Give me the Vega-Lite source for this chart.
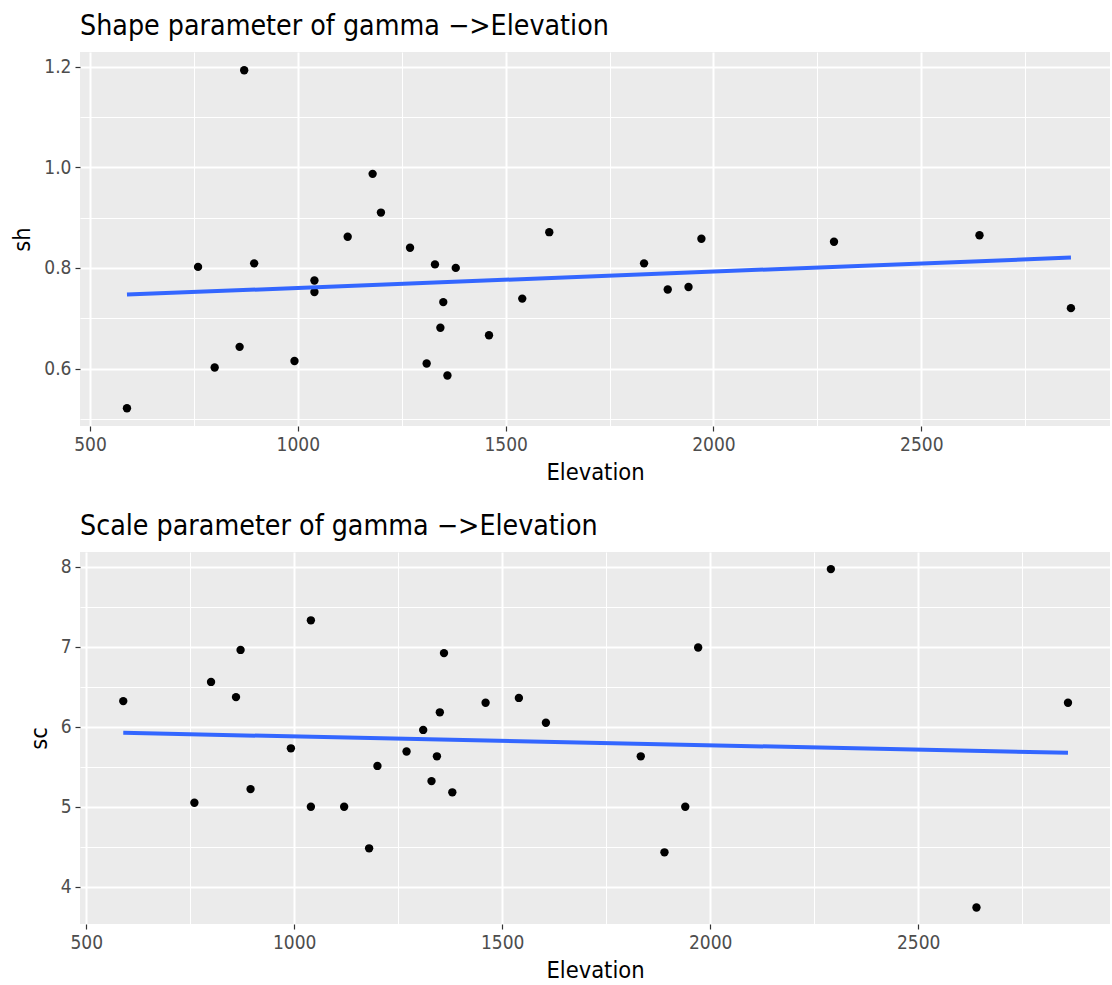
{
  "$schema": "https://vega.github.io/schema/vega-lite/v6.json",
  "padding": {"left": 10, "top": 11, "right": 0, "bottom": 0},
  "background": "white",
  "config": {
    "font": "DejaVu Sans Condensed, DejaVu Sans",
    "view": {"fill": "#EBEBEB", "stroke": null},
    "axis": {
      "labelFont": "DejaVu Sans Condensed, DejaVu Sans",
      "titleFont": "DejaVu Sans Condensed, DejaVu Sans",
      "labelFontSize": 19,
      "labelColor": "#4D4D4D",
      "titleFontSize": 23.5,
      "titleFontWeight": "normal",
      "titleColor": "#000000",
      "gridColor": "#FFFFFF",
      "gridWidth": 2,
      "gridOpacity": 1,
      "domain": false,
      "tickColor": "#333333",
      "tickSize": 5,
      "tickWidth": 1.2,
      "labelPadding": 4
    },
    "title": {
      "font": "DejaVu Sans Condensed, DejaVu Sans",
      "fontSize": 28.3,
      "fontWeight": "normal",
      "color": "#000000",
      "anchor": "start",
      "frame": "group",
      "offset": 11
    }
  },
  "data": {
    "values": [
      {"Elevation": 589, "sh": 0.521, "sc": 6.32},
      {"Elevation": 760, "sh": 0.802, "sc": 5.05},
      {"Elevation": 800, "sh": 0.602, "sc": 6.56},
      {"Elevation": 860, "sh": 0.643, "sc": 6.37},
      {"Elevation": 871, "sh": 1.193, "sc": 6.96},
      {"Elevation": 895, "sh": 0.809, "sc": 5.22},
      {"Elevation": 992, "sh": 0.615, "sc": 5.73},
      {"Elevation": 1040, "sh": 0.775, "sc": 7.33},
      {"Elevation": 1040, "sh": 0.752, "sc": 5.0},
      {"Elevation": 1120, "sh": 0.862, "sc": 5.0},
      {"Elevation": 1180, "sh": 0.987, "sc": 4.48},
      {"Elevation": 1200, "sh": 0.91, "sc": 5.51},
      {"Elevation": 1270, "sh": 0.84, "sc": 5.69},
      {"Elevation": 1310, "sh": 0.61, "sc": 5.96},
      {"Elevation": 1330, "sh": 0.807, "sc": 5.32},
      {"Elevation": 1343, "sh": 0.681, "sc": 5.63},
      {"Elevation": 1350, "sh": 0.732, "sc": 6.18},
      {"Elevation": 1360, "sh": 0.586, "sc": 6.92},
      {"Elevation": 1380, "sh": 0.8, "sc": 5.18},
      {"Elevation": 1460, "sh": 0.666, "sc": 6.3},
      {"Elevation": 1540, "sh": 0.739, "sc": 6.36},
      {"Elevation": 1605, "sh": 0.871, "sc": 6.05},
      {"Elevation": 1833, "sh": 0.809, "sc": 5.63},
      {"Elevation": 1890, "sh": 0.757, "sc": 4.43},
      {"Elevation": 1940, "sh": 0.762, "sc": 5.0},
      {"Elevation": 1971, "sh": 0.858, "sc": 6.99},
      {"Elevation": 2290, "sh": 0.852, "sc": 7.97},
      {"Elevation": 2640, "sh": 0.865, "sc": 3.74},
      {"Elevation": 2860, "sh": 0.72, "sc": 6.3}
    ]
  },
  "columns": 1,
  "align": "none",
  "center": true,
  "spacing": 27,
  "concat": [
    {
      "title": {"text": "Shape parameter of gamma \u2212>Elevation"},
      "width": 1030,
      "height": 374,
      "resolve": {"axis": {"x": "independent", "y": "independent"}},
      "layer": [
        {
          "mark": {"type": "line", "color": "#3366FF", "strokeWidth": 1, "opacity": 0},
          "transform": [{"regression": "sh", "on": "Elevation"}],
          "encoding": {
            "x": {"field": "Elevation", "type": "quantitative", "scale": {"domain": [476, 2954], "nice": false, "zero": false},
              "axis": {"orient": "top", "values": [750, 1250, 1750, 2250, 2750], "grid": true, "gridWidth": 1, "labels": false, "ticks": false, "domain": false, "title": null}},
            "y": {"field": "sh", "type": "quantitative", "scale": {"domain": [0.4857, 1.2292], "nice": false, "zero": false},
              "axis": {"orient": "right", "values": [0.5, 0.7, 0.9, 1.1], "grid": true, "gridWidth": 1, "labels": false, "ticks": false, "domain": false, "title": null}}
          }
        },
        {
          "mark": {"type": "circle", "color": "#000000", "size": 70, "opacity": 1},
          "encoding": {
            "x": {"field": "Elevation", "type": "quantitative",
              "axis": {"values": [500, 1000, 1500, 2000, 2500], "format": "d", "grid": true, "title": "Elevation", "titlePadding": 6}},
            "y": {"field": "sh", "type": "quantitative",
              "axis": {"values": [0.6, 0.8, 1.0, 1.2], "format": ".1f", "grid": true, "title": "sh", "titlePadding": 9}}
          }
        },
        {
          "mark": {"type": "line", "color": "#3366FF", "strokeWidth": 4},
          "transform": [{"regression": "sh", "on": "Elevation"}],
          "encoding": {
            "x": {"field": "Elevation", "type": "quantitative", "axis": null},
            "y": {"field": "sh", "type": "quantitative", "axis": null}
          }
        }
      ]
    },
    {
      "title": {"text": "Scale parameter of gamma \u2212>Elevation"},
      "width": 1030,
      "height": 372,
      "resolve": {"axis": {"x": "independent", "y": "independent"}},
      "layer": [
        {
          "mark": {"type": "line", "color": "#3366FF", "strokeWidth": 1, "opacity": 0},
          "transform": [{"regression": "sc", "on": "Elevation"}],
          "encoding": {
            "x": {"field": "Elevation", "type": "quantitative", "scale": {"domain": [485, 2961], "nice": false, "zero": false},
              "axis": {"orient": "top", "values": [750, 1250, 1750, 2250, 2750], "grid": true, "gridWidth": 1, "labels": false, "ticks": false, "domain": false, "title": null}},
            "y": {"field": "sc", "type": "quantitative", "scale": {"domain": [3.534, 8.184], "nice": false, "zero": false},
              "axis": {"orient": "right", "values": [3.5, 4.5, 5.5, 6.5, 7.5], "grid": true, "gridWidth": 1, "labels": false, "ticks": false, "domain": false, "title": null}}
          }
        },
        {
          "mark": {"type": "circle", "color": "#000000", "size": 70, "opacity": 1},
          "encoding": {
            "x": {"field": "Elevation", "type": "quantitative",
              "axis": {"values": [500, 1000, 1500, 2000, 2500], "format": "d", "grid": true, "title": "Elevation", "titlePadding": 6}},
            "y": {"field": "sc", "type": "quantitative",
              "axis": {"values": [4, 5, 6, 7, 8], "format": "d", "grid": true, "title": "sc", "titlePadding": 9}}
          }
        },
        {
          "mark": {"type": "line", "color": "#3366FF", "strokeWidth": 4},
          "transform": [{"regression": "sc", "on": "Elevation"}],
          "encoding": {
            "x": {"field": "Elevation", "type": "quantitative", "axis": null},
            "y": {"field": "sc", "type": "quantitative", "axis": null}
          }
        }
      ]
    }
  ]
}
